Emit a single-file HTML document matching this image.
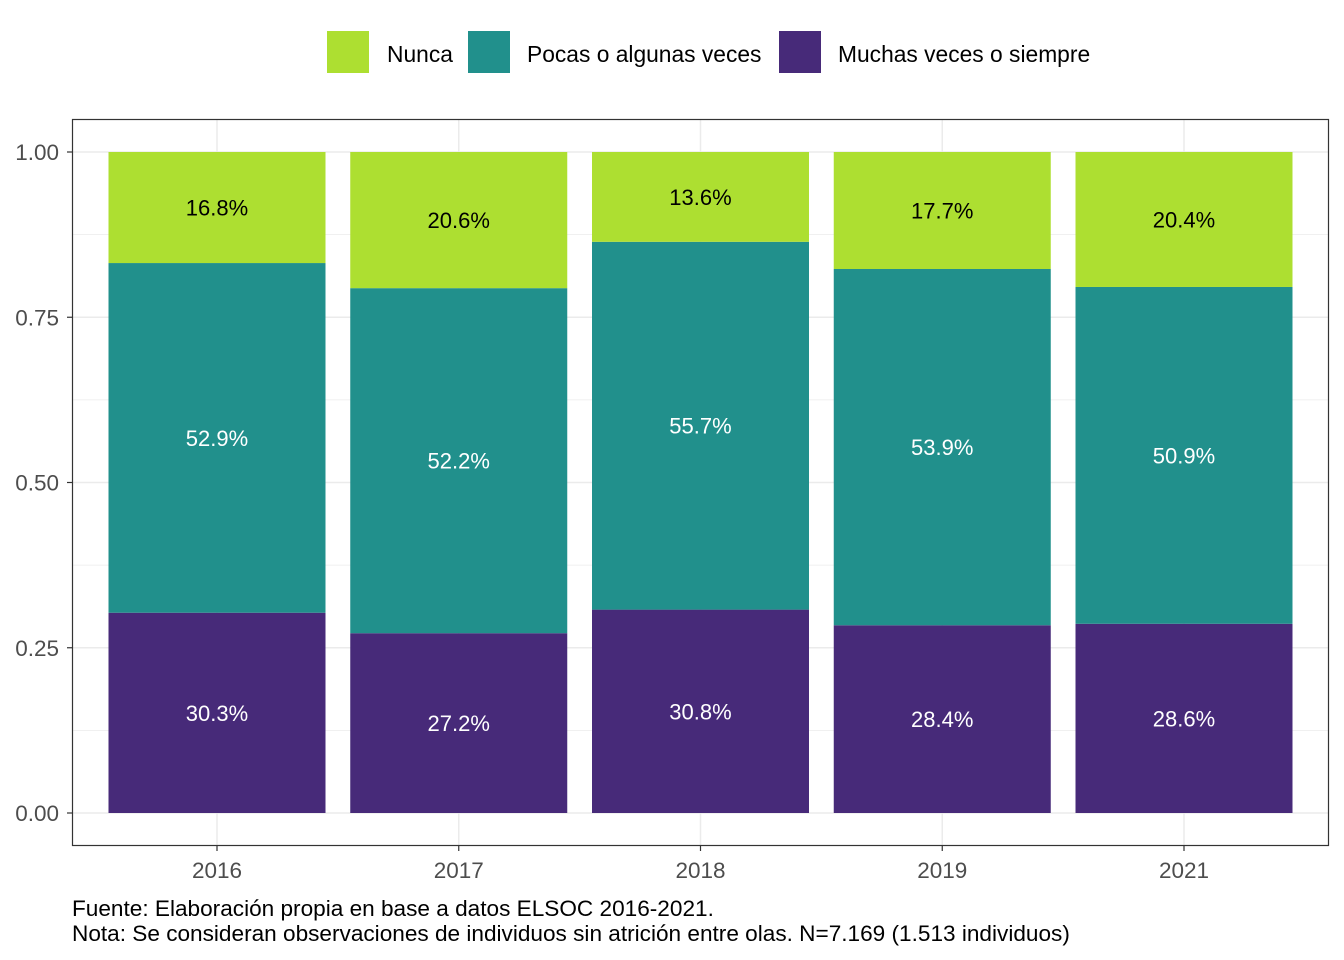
<!DOCTYPE html>
<html><head><meta charset="utf-8"><style>
body{margin:0;background:#fff;}
svg{display:block;font-family:"Liberation Sans",Arial,sans-serif;}
</style></head><body>
<svg id="chart" width="1344" height="960" viewBox="0 0 1344 960">
<g id="legend">
<g><rect x="327" y="31" width="42" height="42" fill="#addf31"/><text x="387" y="62" font-size="22.8" fill="#000">Nunca</text></g>
<g><rect x="468" y="31" width="42" height="42" fill="#21908c"/><text x="527" y="62" font-size="22.8" fill="#000">Pocas o algunas veces</text></g>
<g><rect x="779" y="31" width="42" height="42" fill="#472a79"/><text x="838" y="62" font-size="22.8" fill="#000">Muchas veces o siempre</text></g>
</g>
<g id="grid"></g>
<g id="bars"></g>
<rect x="72.5" y="119.5" width="1256" height="726" fill="none" stroke="#333" stroke-width="1.2"/>
<g id="axes"></g>
<text x="72" y="916" font-size="22.6" fill="#000">Fuente: Elaboración propia en base a datos ELSOC 2016-2021.</text>
<text x="72" y="941" font-size="22.6" fill="#000">Nota: Se consideran observaciones de individuos sin atrición entre olas. N=7.169 (1.513 individuos)</text>
</svg>
<script>
const categories=["2016","2017","2018","2019","2021"];
const muchas=[30.3,27.2,30.8,28.4,28.6];
const pocas=[52.9,52.2,55.7,53.9,50.9];
const nunca=[16.8,20.6,13.6,17.7,20.4];
const yTicks=[0,0.25,0.5,0.75,1];
const yTickLabels=["0.00","0.25","0.50","0.75","1.00"];
const NS="http://www.w3.org/2000/svg";
const x0=72,x1=1329,py0=119,py1=846;
const yS=v=>813-v*661;
const step=241.75;
const xC=i=>217+step*i;
const bw=217;
function el(tag,attrs,parent){const e=document.createElementNS(NS,tag);for(const k in attrs)e.setAttribute(k,attrs[k]);parent.appendChild(e);return e;}
const grid=document.getElementById('grid'),bars=document.getElementById('bars'),axes=document.getElementById('axes');
el('rect',{x:x0,y:py0,width:x1-x0,height:py1-py0,fill:'#fff'},grid);
for(let i=0;i<yTicks.length-1;i++){const m=(yTicks[i]+yTicks[i+1])/2;const l=el('line',{x1:x0,x2:x1,y1:yS(m),y2:yS(m),stroke:'#ebebeb','stroke-width':0.8},grid);}
yTicks.forEach((t,i)=>{const l=el('line',{x1:x0,x2:x1,y1:yS(t),y2:yS(t),stroke:'#ebebeb','stroke-width':1.5},grid);
const tk=el('line',{x1:x0-5,x2:x0,y1:yS(t),y2:yS(t),stroke:'#333','stroke-width':1.2},axes);
const tx=el('text',{x:x0-13,y:yS(t)+8,'text-anchor':'end','font-size':22.5,fill:'#4d4d4d'},axes);tx.textContent=yTickLabels[i];});
categories.forEach((c,i)=>{const l=el('line',{x1:xC(i),x2:xC(i),y1:py0,y2:py1,stroke:'#ebebeb','stroke-width':1.5},grid);
const tk=el('line',{x1:xC(i),x2:xC(i),y1:py1,y2:py1+5,stroke:'#333','stroke-width':1.2},axes);
const tx=el('text',{x:xC(i),y:878,'text-anchor':'middle','font-size':22.5,fill:'#4d4d4d'},axes);tx.textContent=c;
const segs=[[muchas[i],'#472a79','#fff','bar-muchas'],[pocas[i],'#21908c','#fff','bar-pocas'],[nunca[i],'#addf31','#000','bar-nunca']];
let cum=0;const tot=muchas[i]+pocas[i]+nunca[i];
segs.forEach(s=>{const a=cum/tot,b=(cum+s[0])/tot;cum+=s[0];
const r=el('rect',{x:xC(i)-bw/2,y:yS(b),width:bw,height:yS(a)-yS(b),fill:s[1]},bars);
const t=el('text',{x:xC(i),y:(yS(a)+yS(b))/2+8,'text-anchor':'middle','font-size':22,fill:s[2]},bars);t.textContent=s[0].toFixed(1)+'%';});
});
</script>
</body></html>
